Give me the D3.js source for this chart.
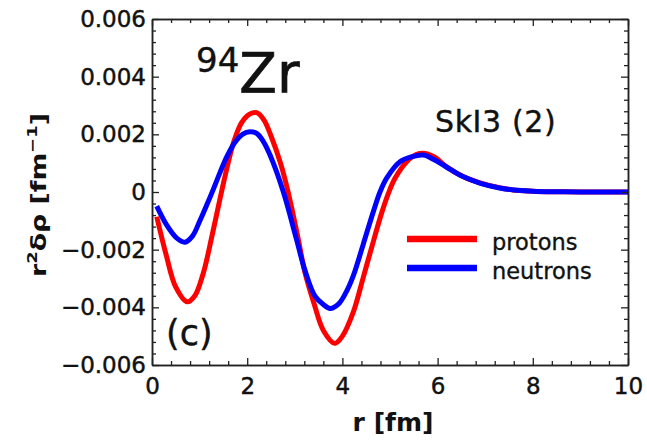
<!DOCTYPE html>
<html><head><meta charset="utf-8">
<script src="https://cdn.jsdelivr.net/npm/d3@7"></script>
<style>
html,body{margin:0;padding:0;background:#fff;}
svg{display:block;}
text{font-family:"DejaVu Sans",sans-serif;fill:#111;}
</style></head>
<body>
<script>
// ---- data ----
const rProtons = [0.1,0.3,0.5,0.74,0.9,1.08,1.25,1.42,1.57,1.72,1.88,2.05,2.2,2.35,2.51,2.7,2.86,3.07,3.21,3.41,3.6,3.84,4.0,4.23,4.44,4.61,4.82,4.97,5.1,5.35,5.55,5.74,5.95,6.19,6.54,6.89,7.3,7.58,8.0,8.5,9.0,10.0];
const protons  = [-0.00086,-0.0022,-0.0033,-0.00381,-0.0036,-0.0028,-0.0016,-0.0003,0.0008,0.00175,0.0024,0.0027,0.00275,0.0025,0.0019,0.0010,0.0000,-0.00161,-0.00277,-0.0039,-0.0048,-0.00525,-0.0050,-0.00416,-0.00295,-0.00195,-0.00075,-0.00003,0.00046,0.00105,0.0013,0.00134,0.0012,0.00087,0.00053,0.00032,0.00015,0.00007,0.00003,0.00001,0,0];
const rNeutrons = [0.1,0.31,0.52,0.69,0.85,1.01,1.15,1.29,1.43,1.57,1.74,1.9,2.06,2.2,2.34,2.48,2.76,3.03,3.21,3.42,3.6,3.74,3.91,4.07,4.23,4.44,4.65,4.79,4.93,5.21,5.45,5.7,5.95,6.2,6.5,6.9,7.3,7.6,8.0,8.5,9.0,10.0];
const neutrons  = [-0.00049,-0.00115,-0.0016,-0.00174,-0.00153,-0.00098,-0.00045,0.0001,0.00068,0.00122,0.00172,0.002,0.00209,0.00203,0.00175,0.00128,0.0000,-0.00161,-0.0027,-0.0036,-0.0039,-0.00404,-0.0039,-0.0035,-0.0029,-0.0018,-0.00068,0.0000,0.00048,0.00105,0.00122,0.00128,0.0011,0.00085,0.00056,0.0003,0.00014,0.00007,0.00003,0.00001,0,0];
const xTicks = [0,2,4,6,8,10];
const yTicks = [-0.006,-0.004,-0.002,0,0.002,0.004,0.006];
const seriesNames = ["protons","neutrons"];
const seriesColors = ["#ff0000","#0000ff"];

const W=647,H=441;
const L=152,R=628,T=19,B=365;
const svg=d3.select("body").append("svg").attr("width",W).attr("height",H);
const x=d3.scaleLinear().domain([0,10]).range([L,R]);
const y=d3.scaleLinear().domain([-0.006,0.006]).range([B,T]);

const xMinor=d3.range(0,10.001,0.4).map(v=>+v.toFixed(2)).filter(v=>!xTicks.includes(v));
const yMinor=d3.range(-0.006,0.00601,0.0004).map(v=>+v.toFixed(4)).filter(v=>!yTicks.some(t=>Math.abs(t-v)<1e-9));
const fmtY=d=>Math.abs(d)<1e-12?"0":d3.format(".3f")(d);

function styleAxis(g,fs){
  g.selectAll("path.domain").attr("stroke","#222").attr("stroke-width",1.5);
  g.selectAll(".tick line").attr("stroke","#222").attr("stroke-width",1.3);
  g.selectAll("text").attr("font-family","DejaVu Sans").attr("font-size",fs).attr("fill","#111")
    .attr("stroke","#111").attr("stroke-width",0.45);
}
// curves
const line=(xs,ys)=>d3.line().x((d,i)=>x(xs[i])).y((d,i)=>y(ys[i])).curve(d3.curveCatmullRom.alpha(0.5))(ys);
svg.append("clipPath").attr("id","c").append("rect").attr("x",L).attr("y",T).attr("width",R-L).attr("height",B-T);
const cg=svg.append("g").attr("clip-path","url(#c)");
cg.append("path").attr("d",line(rProtons,protons)).attr("fill","none").attr("stroke",seriesColors[0]).attr("stroke-width",5);
cg.append("path").attr("d",line(rNeutrons,neutrons)).attr("fill","none").attr("stroke",seriesColors[1]).attr("stroke-width",5);

// axes
const gb=svg.append("g").attr("transform",`translate(0,${B})`).call(d3.axisBottom(x).tickValues(xTicks).tickSize(-7).tickSizeOuter(0).tickPadding(13).tickFormat(d3.format("d")));
styleAxis(gb,23);
const gbm=svg.append("g").attr("transform",`translate(0,${B})`).call(d3.axisBottom(x).tickValues(xMinor).tickSize(-4).tickSizeOuter(0).tickFormat(""));
styleAxis(gbm,0);
const gt=svg.append("g").attr("transform",`translate(0,${T})`).call(d3.axisTop(x).tickValues(xTicks).tickSize(-7).tickSizeOuter(0).tickFormat(""));
styleAxis(gt,0);
const gtm=svg.append("g").attr("transform",`translate(0,${T})`).call(d3.axisTop(x).tickValues(xMinor).tickSize(-4).tickSizeOuter(0).tickFormat(""));
styleAxis(gtm,0);
const gl=svg.append("g").attr("transform",`translate(${L},0)`).call(d3.axisLeft(y).tickValues(yTicks).tickSize(-7).tickSizeOuter(0).tickPadding(6).tickFormat(fmtY));
styleAxis(gl,23);
const glm=svg.append("g").attr("transform",`translate(${L},0)`).call(d3.axisLeft(y).tickValues(yMinor).tickSize(-4).tickSizeOuter(0).tickFormat(""));
styleAxis(glm,0);
const gr=svg.append("g").attr("transform",`translate(${R},0)`).call(d3.axisRight(y).tickValues(yTicks).tickSize(-7).tickSizeOuter(0).tickFormat(""));
styleAxis(gr,0);
const grm=svg.append("g").attr("transform",`translate(${R},0)`).call(d3.axisRight(y).tickValues(yMinor).tickSize(-4).tickSizeOuter(0).tickFormat(""));
styleAxis(grm,0);

// axis titles
svg.append("text").attr("x",(L+R)/2+3).attr("y",431).attr("text-anchor","middle").attr("font-size",25).attr("font-weight","bold").text("r [fm]");
const yt=svg.append("text").attr("transform",`translate(46,${(T+B)/2+3}) rotate(-90)`).attr("text-anchor","middle").attr("font-size",21).attr("font-weight","bold")
  .attr("textLength",164).attr("lengthAdjust","spacingAndGlyphs");
yt.append("tspan").text("r");
yt.append("tspan").attr("dy",-9).attr("font-size",14).text("2");
yt.append("tspan").attr("dy",9).text("δρ [fm");
yt.append("tspan").attr("dy",-9).attr("font-size",14).text("−1");
yt.append("tspan").attr("dy",9).text("]");

// annotations
const ann=svg.append("g").attr("stroke","#111").attr("stroke-width",0.4);
const zr=ann.append("text").attr("x",196).attr("y",92);
zr.append("tspan").attr("font-size",34).attr("dy",-20).text("94");
zr.append("tspan").attr("font-size",55).attr("dy",20).attr("stroke-width",0.7).text("Zr");
ann.append("text").attr("x",435).attr("y",132).attr("font-size",30).attr("letter-spacing",0.6).text("SkI3 (2)");
ann.append("text").attr("x",166).attr("y",345).attr("font-size",35).text("(c)");

// legend
const leg=svg.append("g");
seriesNames.forEach((n,i)=>{
  const yy=239+i*29;
  leg.append("line").attr("x1",407).attr("x2",477).attr("y1",yy).attr("y2",yy).attr("stroke",seriesColors[i]).attr("stroke-width",6.5);
  leg.append("text").attr("x",492).attr("y",yy+11).attr("font-size",22.5).attr("stroke","#111").attr("stroke-width",0.35).text(n);
});
</script>
</body></html>
